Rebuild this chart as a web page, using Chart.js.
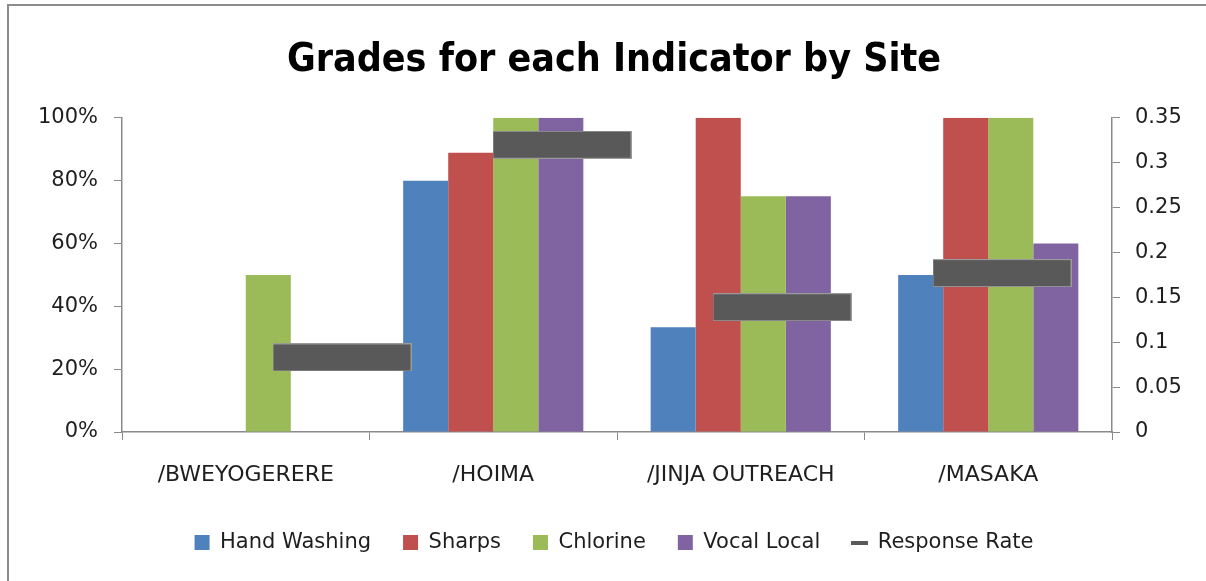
<!DOCTYPE html>
<html>
<head>
<meta charset="utf-8">
<title>Grades for each Indicator by Site</title>
<script src="https://cdn.jsdelivr.net/npm/chart.js@4.4.1/dist/chart.umd.min.js"></script>
<style>
  html, body { margin: 0; padding: 0; background: #fff; overflow: hidden; }
  #frame {
    position: absolute; left: 7px; top: 4px; width: 1300px; height: 700px;
    border-left: 2px solid #8c8c8c; border-top: 2px solid #8c8c8c;
  }
  #wrap { position: absolute; left: 0; top: 0; width: 1206px; height: 581px; }
</style>
</head>
<body>
<div id="frame"></div>
<div id="wrap"><canvas id="gradesChart"></canvas></div>
<script>
// data
const sites = ['/BWEYOGERERE', '/HOIMA', '/JINJA OUTREACH', '/MASAKA'];
const handWashing = [0, 0.80, 0.333, 0.50];
const sharps = [0, 0.889, 1.00, 1.00];
const chlorine = [0.50, 1.00, 0.75, 1.00];
const vocalLocal = [0, 1.00, 0.75, 0.60];
const responseRate = [0.083, 0.32, 0.139, 0.177];
const leftTicks = [0, 0.2, 0.4, 0.6, 0.8, 1];
const rightTicks = [0, 0.05, 0.1, 0.15, 0.2, 0.25, 0.3, 0.35];

const textColor = '#1e1e1e';
const axisColor = '#8a8a8a';
const tickFont = { family: "'DejaVu Sans', sans-serif", size: 21 };
const catFont = { family: "'DejaVu Sans', sans-serif", size: 22 };
const legendFont = { family: "'DejaVu Sans', sans-serif", size: 21 };

// the secondary series sits on its own spacing (n+0.5 slots across the plot),
// expressed as a fractional index of the category axis
function markerX(i) {
    const n = sites.length;
    return (i + 1) * n / (n + 0.5) - 0.5;
}

// wide dash used as the Response Rate marker
function makeDash(w, h, color, edge) {
    const c = document.createElement('canvas');
    c.width = w; c.height = h;
    const g = c.getContext('2d');
    g.fillStyle = edge;
    g.fillRect(0, 0, w, h);
    g.fillStyle = color;
    g.fillRect(1, 1, w - 2, h - 2);
    return c;
}
const bigDash = makeDash(139, 28, '#595959', '#9a9a9a');
const smallDash = makeDash(17, 4, '#595959', '#595959');

const ctx = document.getElementById('gradesChart').getContext('2d');
const chart = new Chart(ctx, {
    type: 'bar',
    data: {
        labels: sites,
        datasets: [
            { label: 'Hand Washing', data: handWashing, backgroundColor: '#4f81bd', pointStyle: 'rect' },
            { label: 'Sharps', data: sharps, backgroundColor: '#c0504d', pointStyle: 'rect' },
            { label: 'Chlorine', data: chlorine, backgroundColor: '#9bbb59', pointStyle: 'rect' },
            { label: 'Vocal Local', data: vocalLocal, backgroundColor: '#8064a2', pointStyle: 'rect' },
            {
                type: 'line',
                label: 'Response Rate',
                parsing: false,
                data: responseRate.map((v, i) => ({ x: markerX(i), y: v })),
                yAxisID: 'y1',
                showLine: false,
                pointStyle: bigDash,
                pointRadius: 14,
                backgroundColor: '#595959',
                borderColor: '#595959',
                order: -1
            }
        ]
    },
    options: {
        responsive: true,
        maintainAspectRatio: false,
        animation: false,
        datasets: { bar: { categoryPercentage: 0.728, barPercentage: 1.0 } },
        layout: { padding: { left: 22, right: 0, top: 0, bottom: 18 } },
        plugins: {
            tooltip: { enabled: false },
            title: {
                display: true,
                text: 'Grades for each Indicator by Site',
                color: '#000',
                font: { family: "'DejaVu Sans Condensed', 'DejaVu Sans', sans-serif", size: 39, weight: 'bold', lineHeight: 1.2 },
                padding: { top: 37, bottom: 34 }
            },
            legend: {
                position: 'bottom',
                labels: {
                    color: textColor,
                    font: legendFont,
                    usePointStyle: true,
                    boxWidth: 15,
                    boxHeight: 15,
                    padding: 32,
                    sort: (a, b) => a.datasetIndex - b.datasetIndex,
                    generateLabels: function(c) {
                        const items = Chart.defaults.plugins.legend.labels.generateLabels(c);
                        items.forEach(it => {
                            it.lineWidth = 0;
                            if (it.text === 'Response Rate') it.pointStyle = smallDash;
                        });
                        return items;
                    }
                }
            }
        },
        scales: {
            x: {
                grid: { drawOnChartArea: false, tickLength: 8, color: axisColor },
                border: { color: axisColor, width: 1.5 },
                ticks: { color: textColor, font: catFont, padding: 22, maxRotation: 0 },
                afterFit: s => { s.height = 68; }
            },
            y: {
                position: 'left',
                min: 0,
                max: 1,
                afterBuildTicks: s => { s.ticks = leftTicks.map(v => ({ value: v })); },
                grid: { drawOnChartArea: false, tickLength: 8, color: axisColor },
                border: { color: axisColor, width: 1.5 },
                ticks: { color: textColor, font: tickFont, padding: 16, callback: v => Math.round(v * 100) + '%' },
                afterFit: s => { s.width = 100; }
            },
            y1: {
                position: 'right',
                min: 0,
                max: 0.35,
                afterBuildTicks: s => { s.ticks = rightTicks.map(v => ({ value: v })); },
                grid: { drawOnChartArea: false, tickLength: 8, color: axisColor },
                border: { color: axisColor, width: 1.5 },
                ticks: { color: textColor, font: tickFont, padding: 15, callback: v => String(parseFloat(v.toFixed(2))) },
                afterFit: s => { s.width = 94; }
            }
        }
    }
});
</script>
</body>
</html>
